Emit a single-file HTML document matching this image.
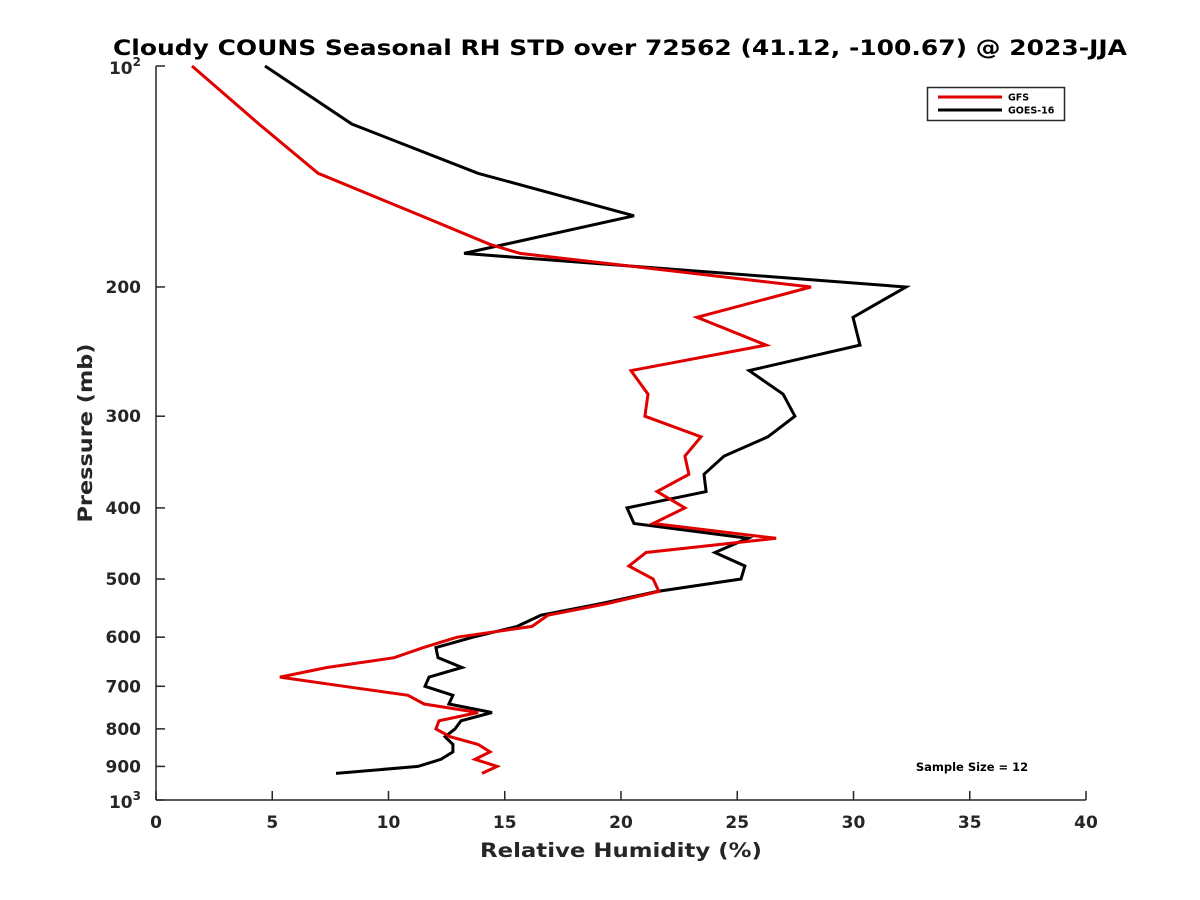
<!DOCTYPE html>
<html><head><meta charset="utf-8"><style>
body{margin:0;background:#fff}
svg{display:block;font-family:"DejaVu Sans","Liberation Sans",sans-serif;font-weight:bold}
</style></head><body>
<svg id="chart" width="1200" height="900" viewBox="0 0 1200 900">
<rect width="1200" height="900" fill="#fff"/>
<text x="620" y="55" font-size="21" text-anchor="middle" fill="#000" textLength="1014" lengthAdjust="spacingAndGlyphs">Cloudy COUNS Seasonal RH STD over 72562 (41.12, -100.67) @ 2023-JJA</text>
<g id="axes"></g>
<g id="series"></g>
<text x="621" y="857" font-size="19.5" text-anchor="middle" fill="#262626" textLength="282" lengthAdjust="spacingAndGlyphs">Relative Humidity (%)</text>
<text transform="translate(92,433) rotate(-90)" font-size="19.5" text-anchor="middle" fill="#262626" textLength="179" lengthAdjust="spacingAndGlyphs">Pressure (mb)</text>
<g>
<rect x="927.5" y="87.5" width="137" height="33" fill="#fff" stroke="#262626" stroke-width="1.5"/>
<line x1="938" y1="97" x2="1002" y2="97" stroke="#e00000" stroke-width="3"/>
<text x="1008" y="100.5" font-size="9.5" fill="#000">GFS</text>
<line x1="938" y1="110" x2="1002" y2="110" stroke="#000" stroke-width="3"/>
<text x="1008" y="113.5" font-size="9.5" fill="#000">GOES-16</text>
</g>
<text x="972" y="771" font-size="11.5" text-anchor="middle" fill="#000">Sample Size = 12</text>
</svg>
<script>
const pressureLevels=[100,120,140,160,175,180,200,220,240,260,280,300,320,340,360,380,400,420,440,460,480,500,520,540,560,580,600,620,640,660,680,700,720,740,760,780,800,820,840,860,880,900,920];
const gfsValues=[1.55,4.43,6.97,11.40,14.37,15.66,28.17,23.27,26.24,20.43,21.16,21.03,23.44,22.75,22.92,21.55,22.75,21.38,26.67,21.08,20.34,21.38,21.63,19.4,16.86,16.17,12.95,11.5,10.24,7.35,5.33,8.09,10.84,11.53,13.85,12.17,12.04,12.65,13.85,14.37,13.72,14.67,14.02];
const goesValues=[4.69,8.43,13.85,20.56,15.0,13.25,32.26,29.98,30.28,25.51,26.97,27.48,26.32,24.43,23.57,23.66,20.26,20.56,25.46,24.04,25.33,25.16,21.55,19.14,16.56,15.53,13.63,12.04,12.13,13.16,11.74,11.57,12.77,12.60,14.45,13.12,12.86,12.43,12.77,12.77,12.26,11.27,7.74];
const xTicks=[0,5,10,15,20,25,30,35,40];
const yTicks=[100,200,300,400,500,600,700,800,900,1000];
const yTickLabels=["10^2","200","300","400","500","600","700","800","900","10^3"];

const NS="http://www.w3.org/2000/svg";
const X0=156,X1=1086,Y0=66,Y1=800;
function xs(v){return X0+(v-0)/(40-0)*(X1-X0);}
function ys(p){return Y0+(Math.log10(p)-2)*(Y1-Y0);}
function mk(tag,attrs,parent){const e=document.createElementNS(NS,tag);for(const k in attrs)e.setAttribute(k,attrs[k]);parent.appendChild(e);return e;}
const axes=document.getElementById('axes');
const series=document.getElementById('series');
const xAxis=mk('line',{x1:X0,y1:Y1,x2:X1,y2:Y1,stroke:'#262626','stroke-width':1.5},axes);


const yAxis=mk('line',{x1:X0,y1:Y0,x2:X0,y2:Y1,stroke:'#262626','stroke-width':1.5},axes);


xTicks.forEach(t=>{
  const x=xs(t);
  mk('line',{x1:x,y1:Y1,x2:x,y2:Y1-9,stroke:'#262626','stroke-width':1.5},axes);
  const tx=mk('text',{x:x,y:Y1+28,'font-size':17,'text-anchor':'middle',fill:'#262626'},axes);
  tx.textContent=t;
  
  
});
yTicks.forEach((p,i)=>{
  const y=ys(p);
  mk('line',{x1:X0,y1:y,x2:X0+9,y2:y,stroke:'#262626','stroke-width':1.5},axes);
  const lab=yTickLabels[i];
  const tx=mk('text',{x:X0-15,y:y+6,'font-size':17,'text-anchor':'end',fill:'#262626'},axes);
  
  
  if(lab.indexOf('^')>0){
    const parts=lab.split('^');
    const a=document.createElementNS(NS,'tspan');a.textContent=parts[0];tx.appendChild(a);
    const b=document.createElementNS(NS,'tspan');b.textContent=parts[1];b.setAttribute('dy','-8');b.setAttribute('font-size','12');tx.appendChild(b);
    tx.setAttribute('y',y+8);
  } else tx.textContent=lab;
});
function drawLine(vals,color,name){
  const pts=vals.map((v,i)=>xs(v).toFixed(1)+','+ys(pressureLevels[i]).toFixed(1)).join(' ');
  const pl=mk('polyline',{points:pts,fill:'none',stroke:color,'stroke-width':3,'stroke-linejoin':'miter'},series);
  
  
}
drawLine(goesValues,'#000','goes16-line');
drawLine(gfsValues,'#e00000','gfs-line');
</script>
</body></html>
